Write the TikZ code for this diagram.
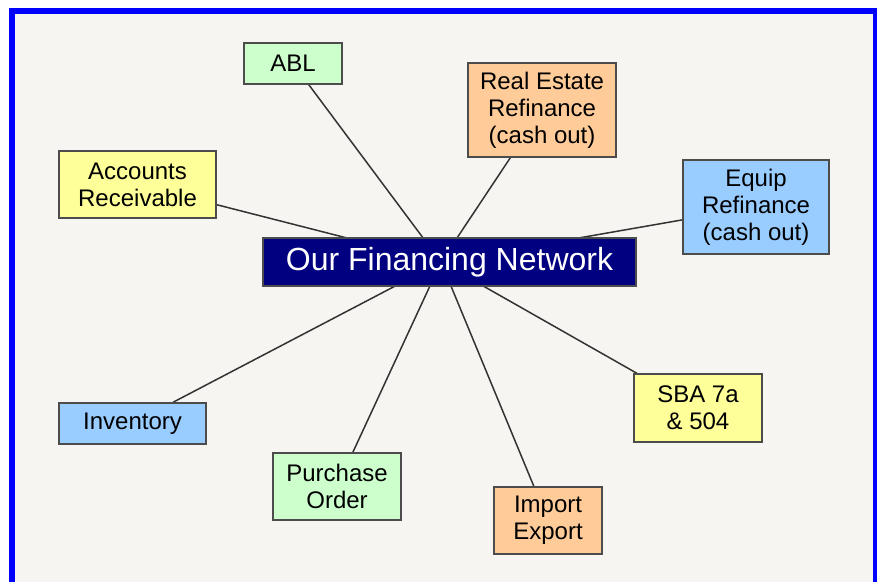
\documentclass[tikz,border=0pt]{standalone}
\usepackage{fontspec}
\setmainfont{Liberation Sans}
\usepackage{xcolor}
\usepackage{tikz}
\usetikzlibrary{
  positioning,
  backgrounds
}

\definecolor{paper}{HTML}{F6F5F1}
\definecolor{frameblue}{HTML}{0000FF}
\definecolor{hubnavy}{HTML}{000080}
\definecolor{boxgreen}{HTML}{CCFFCC}
\definecolor{boxorange}{HTML}{FFCC99}
\definecolor{boxyellow}{HTML}{FFFF99}
\definecolor{boxblue}{HTML}{99CCFF}

\tikzset{
  fund/.style={draw=black!70, line width=0.75pt, align=center, inner sep=0pt,
    font=\fontsize{12}{13.5}\selectfont},
  link/.style={draw=black!80, line width=0.75pt}
}

\begin{document}
\begin{tikzpicture}
\useasboundingbox (0,0) rectangle (15.413,10.211);

% hub and the funding boxes
\node[fund, fill=hubnavy, text=white, minimum width=186.5pt, minimum height=24pt,
  font=\fontsize{16}{18}\selectfont] (hub) at (7.900,5.606) {Our Financing Network};
\coordinate (hc) at (7.751,5.606);

\node[fund, fill=boxgreen, minimum width=49pt, minimum height=20.5pt] (abl) at (5.149,9.095) {ABL};
\node[fund, fill=boxorange, minimum width=74pt, minimum height=47pt] (realestate) at (9.526,8.278) {Real Estate\\Refinance\\(cash out)};
\node[fund, fill=boxyellow, minimum width=78.5pt, minimum height=33.5pt] (receivable) at (2.417,6.968) {Accounts\\Receivable};
\node[fund, fill=boxblue, minimum width=73pt, minimum height=47pt] (equip) at (13.287,6.573) {Equip\\Refinance\\(cash out)};
\node[fund, fill=boxblue, minimum width=73.5pt, minimum height=20.5pt] (inventory) at (2.329,2.768) {Inventory};
\node[fund, fill=boxgreen, minimum width=64pt, minimum height=33.5pt] (purchase) at (5.923,1.661) {Purchase\\Order};
\node[fund, fill=boxorange, minimum width=54pt, minimum height=33.5pt] (import) at (9.631,1.063) {Import\\Export};
\node[fund, fill=boxyellow, minimum width=64pt, minimum height=34pt] (sba) at (12.267,3.040) {SBA 7a\\\& 504};

\begin{scope}[on background layer]
  \clip (0,0) rectangle (15.413,10.211);
  \fill[white] (0,0) rectangle (15.413,10.211);
  \fill[paper] (0.211,10.018) rectangle (15.396,-0.3);
  \draw[frameblue, line width=3pt] (0.211,10.018) rectangle (15.396,-0.3);
  % spokes into the hub
  \foreach \n in {abl,realestate,receivable,equip,inventory,purchase,import,sba}
    \draw[link] (\n) -- (hc);
\end{scope}
\end{tikzpicture}
\end{document}
